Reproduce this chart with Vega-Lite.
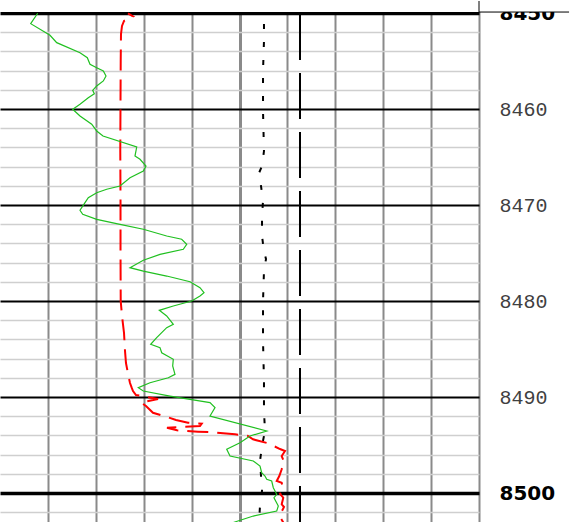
{
  "$schema": "https://vega.github.io/schema/vega-lite/v6.json",
  "width": 479,
  "height": 522,
  "padding": 0,
  "autosize": {"type": "pad"},
  "background": "white",
  "config": {"view": {"stroke": null}},
  "datasets": {
    "gr": [
      {"depth": 8450.03, "value": 0.787}, {"depth": 8451.11, "value": 0.641}, {"depth": 8452.32, "value": 1.044},
      {"depth": 8453.09, "value": 1.184}, {"depth": 8454.14, "value": 1.670}, {"depth": 8454.66, "value": 1.823},
      {"depth": 8455.34, "value": 1.879}, {"depth": 8455.70, "value": 2.019}, {"depth": 8456.04, "value": 2.157},
      {"depth": 8456.56, "value": 2.213}, {"depth": 8457.08, "value": 2.157}, {"depth": 8457.60, "value": 2.019},
      {"depth": 8458.05, "value": 1.935}, {"depth": 8458.41, "value": 1.969}, {"depth": 8458.82, "value": 1.843},
      {"depth": 8459.51, "value": 1.670}, {"depth": 8460.03, "value": 1.518}, {"depth": 8460.73, "value": 1.670},
      {"depth": 8461.59, "value": 1.914}, {"depth": 8462.29, "value": 2.019}, {"depth": 8462.81, "value": 2.150},
      {"depth": 8463.96, "value": 2.854}, {"depth": 8464.90, "value": 2.818}, {"depth": 8465.24, "value": 2.923},
      {"depth": 8465.94, "value": 3.048}, {"depth": 8466.46, "value": 2.992}, {"depth": 8467.16, "value": 2.714},
      {"depth": 8468.02, "value": 2.505}, {"depth": 8468.36, "value": 2.228}, {"depth": 8468.72, "value": 2.019},
      {"depth": 8469.24, "value": 1.843}, {"depth": 8469.76, "value": 1.775}, {"depth": 8470.55, "value": 1.670},
      {"depth": 8470.97, "value": 1.727}, {"depth": 8471.49, "value": 2.019}, {"depth": 8472.01, "value": 2.505},
      {"depth": 8472.53, "value": 2.992}, {"depth": 8473.23, "value": 3.480}, {"depth": 8473.57, "value": 3.793},
      {"depth": 8474.09, "value": 3.898}, {"depth": 8474.61, "value": 3.827}, {"depth": 8475.14, "value": 3.340},
      {"depth": 8475.76, "value": 2.992}, {"depth": 8476.53, "value": 2.714}, {"depth": 8476.88, "value": 2.992},
      {"depth": 8477.40, "value": 3.480}, {"depth": 8477.99, "value": 3.967}, {"depth": 8478.61, "value": 4.175},
      {"depth": 8479.14, "value": 4.259}, {"depth": 8479.48, "value": 4.175}, {"depth": 8480.00, "value": 4.002},
      {"depth": 8480.52, "value": 3.618}, {"depth": 8480.97, "value": 3.326}, {"depth": 8481.56, "value": 3.480},
      {"depth": 8482.43, "value": 3.618}, {"depth": 8482.78, "value": 3.480}, {"depth": 8483.82, "value": 3.271},
      {"depth": 8484.51, "value": 3.146}, {"depth": 8484.86, "value": 3.340}, {"depth": 8485.39, "value": 3.376},
      {"depth": 8486.07, "value": 3.618}, {"depth": 8486.77, "value": 3.605}, {"depth": 8487.64, "value": 3.653},
      {"depth": 8487.99, "value": 3.514}, {"depth": 8488.51, "value": 3.132}, {"depth": 8489.03, "value": 2.887},
      {"depth": 8489.38, "value": 2.992}, {"depth": 8489.90, "value": 3.549}, {"depth": 8490.59, "value": 4.384},
      {"depth": 8491.11, "value": 4.489}, {"depth": 8491.98, "value": 4.384}, {"depth": 8493.54, "value": 5.568},
      {"depth": 8494.06, "value": 5.219}, {"depth": 8494.76, "value": 5.010}, {"depth": 8495.45, "value": 4.733},
      {"depth": 8496.15, "value": 4.802}, {"depth": 8496.67, "value": 5.288}, {"depth": 8497.19, "value": 5.428},
      {"depth": 8497.89, "value": 5.463}, {"depth": 8498.23, "value": 5.532}, {"depth": 8498.57, "value": 5.568},
      {"depth": 8498.75, "value": 5.672}, {"depth": 8499.45, "value": 5.706}, {"depth": 8500.14, "value": 5.777},
      {"depth": 8500.49, "value": 5.720}, {"depth": 8501.35, "value": 5.810}, {"depth": 8501.88, "value": 5.777},
      {"depth": 8502.40, "value": 5.288}, {"depth": 8503.07, "value": 4.871}
    ],
    "res": [
      {"depth": 8450.03, "value": 2.672}, {"depth": 8450.36, "value": 2.777}, {"depth": 8450.83, "value": 2.589},
      {"depth": 8451.35, "value": 2.547}, {"depth": 8452.19, "value": 2.526}, {"depth": 8455.00, "value": 2.520},
      {"depth": 8459.17, "value": 2.516}, {"depth": 8464.38, "value": 2.511}, {"depth": 8469.58, "value": 2.516},
      {"depth": 8474.79, "value": 2.516}, {"depth": 8480.00, "value": 2.520}, {"depth": 8481.56, "value": 2.547},
      {"depth": 8483.33, "value": 2.589}, {"depth": 8485.21, "value": 2.610}, {"depth": 8486.46, "value": 2.630},
      {"depth": 8487.71, "value": 2.678}, {"depth": 8488.54, "value": 2.714}, {"depth": 8489.03, "value": 2.749},
      {"depth": 8489.38, "value": 2.777}, {"depth": 8489.79, "value": 2.839}, {"depth": 8490.21, "value": 3.299},
      {"depth": 8490.57, "value": 2.944}, {"depth": 8490.94, "value": 3.048}, {"depth": 8491.64, "value": 3.194},
      {"depth": 8492.08, "value": 3.486}, {"depth": 8492.40, "value": 3.674}, {"depth": 8492.68, "value": 3.925},
      {"depth": 8492.78, "value": 4.211}, {"depth": 8493.02, "value": 4.175}, {"depth": 8493.20, "value": 3.486},
      {"depth": 8493.47, "value": 3.695}, {"depth": 8493.61, "value": 4.134}, {"depth": 8493.68, "value": 4.447},
      {"depth": 8493.89, "value": 4.906}, {"depth": 8494.06, "value": 5.177}, {"depth": 8494.41, "value": 5.282},
      {"depth": 8494.82, "value": 5.595}, {"depth": 8495.42, "value": 5.846}, {"depth": 8495.63, "value": 5.950},
      {"depth": 8496.15, "value": 5.881}, {"depth": 8496.74, "value": 5.929}, {"depth": 8497.53, "value": 5.881},
      {"depth": 8498.23, "value": 5.831}, {"depth": 8498.75, "value": 5.777}, {"depth": 8498.93, "value": 5.881},
      {"depth": 8499.58, "value": 5.908}, {"depth": 8500.10, "value": 5.846}, {"depth": 8500.49, "value": 5.914},
      {"depth": 8501.18, "value": 5.881}, {"depth": 8501.46, "value": 5.929}, {"depth": 8502.08, "value": 5.866},
      {"depth": 8502.50, "value": 5.846}, {"depth": 8503.07, "value": 5.914}
    ],
    "dot": [
      {"depth": 8450.10, "value": 5.511}, {"depth": 8452.92, "value": 5.511}, {"depth": 8456.04, "value": 5.491},
      {"depth": 8460.21, "value": 5.491}, {"depth": 8464.38, "value": 5.511}, {"depth": 8465.94, "value": 5.470},
      {"depth": 8466.67, "value": 5.407}, {"depth": 8468.02, "value": 5.449}, {"depth": 8469.58, "value": 5.491},
      {"depth": 8471.15, "value": 5.470}, {"depth": 8473.23, "value": 5.470}, {"depth": 8474.79, "value": 5.511},
      {"depth": 8475.63, "value": 5.553}, {"depth": 8476.88, "value": 5.511}, {"depth": 8480.00, "value": 5.491},
      {"depth": 8484.17, "value": 5.491}, {"depth": 8488.33, "value": 5.511}, {"depth": 8491.46, "value": 5.511},
      {"depth": 8493.54, "value": 5.532}, {"depth": 8495.10, "value": 5.470}, {"depth": 8496.67, "value": 5.428},
      {"depth": 8498.23, "value": 5.449}, {"depth": 8499.79, "value": 5.470}, {"depth": 8501.35, "value": 5.428},
      {"depth": 8503.07, "value": 5.407}
    ],
    "bit": [
      {"depth": 8450.10, "value": 6.263}, {"depth": 8503.07, "value": 6.263}
    ],
    "frame": [
      {"value": 0, "value2": 11.88, "depth": 8448.75, "depth2": 8449.9}
    ],
    "frameEdges": [
      {"value": 10, "value2": 11.88, "depth": 8449.9, "depth2": 8449.9},
      {"value": 10, "value2": 10, "depth": 8448.75, "depth2": 8449.9}
    ]
  },
  "encoding": {
    "x": {
      "field": "value", "type": "quantitative",
      "scale": {"domain": [0, 10], "nice": false, "zero": false},
      "axis": {
        "orient": "bottom", "title": null, "labels": false, "ticks": false, "domain": false,
        "values": [0, 1, 2, 3, 4, 5, 6, 7, 8, 9, 10],
        "grid": true, "gridColor": "#8a8a8a",
        "gridWidth": {"condition": {"test": "datum.value === 5", "value": 3}, "value": 2},
        "gridOpacity": {"condition": {"test": "datum.value === 0", "value": 0}, "value": 1}
      }
    },
    "y": {
      "field": "depth", "type": "quantitative",
      "scale": {"domain": [8448.75, 8503.125], "nice": false, "zero": false, "reverse": true},
      "axis": {
        "orient": "right", "title": null, "ticks": false, "domain": false,
        "values": [8450, 8452, 8454, 8456, 8458, 8460, 8462, 8464, 8466, 8468, 8470, 8472, 8474, 8476, 8478, 8480, 8482, 8484, 8486, 8488, 8490, 8492, 8494, 8496, 8498, 8500, 8502],
        "format": "d",
        "labelExpr": "datum.value % 10 === 0 ? datum.label : ''",
        "labelOverlap": false, "labelFlush": false, "labelBound": false,
        "labelPadding": 20, "labelAlign": "left", "labelBaseline": "middle",
        "labelFont": {"condition": {"test": "datum.value % 50 === 0", "value": "DejaVu Sans"}, "value": "Liberation Mono"},
        "labelFontWeight": {"condition": {"test": "datum.value % 50 === 0", "value": "bold"}, "value": "normal"},
        "labelFontSize": 20,
        "labelColor": {"condition": {"test": "datum.value % 50 === 0", "value": "#000000"}, "value": "#404040"},
        "grid": true,
        "gridColor": {"condition": {"test": "datum.value % 10 === 0", "value": "#000000"}, "value": "#cfcfcf"},
        "gridWidth": {"condition": [{"test": "datum.value % 50 === 0", "value": 3.3}, {"test": "datum.value % 10 === 0", "value": 2}], "value": 1.5}
      }
    }
  },
  "layer": [
    {
      "data": {"name": "bit"},
      "mark": {"type": "line", "color": "#000000", "strokeWidth": 2, "strokeDash": [46, 13]},
      "encoding": {"order": {"field": "depth", "type": "quantitative"}}
    },
    {
      "data": {"name": "dot"},
      "mark": {"type": "line", "color": "#000000", "strokeWidth": 2, "strokeDash": [5, 13], "strokeDashOffset": 8},
      "encoding": {"order": {"field": "depth", "type": "quantitative"}}
    },
    {
      "data": {"name": "res"},
      "mark": {"type": "line", "color": "#ff0000", "strokeWidth": 2, "strokeDash": [21, 9], "strokeDashOffset": 15},
      "encoding": {"order": {"field": "depth", "type": "quantitative"}}
    },
    {
      "data": {"name": "gr"},
      "mark": {"type": "line", "color": "#20c020", "strokeWidth": 1.2},
      "encoding": {"order": {"field": "depth", "type": "quantitative"}}
    },
    {
      "data": {"name": "frame"},
      "mark": {"type": "rect", "fill": "#ffffff", "strokeWidth": 0, "clip": false},
      "encoding": {
        "x2": {"field": "value2"},
        "y2": {"field": "depth2"}
      }
    },
    {
      "data": {"name": "frameEdges"},
      "mark": {"type": "rule", "color": "#000000", "strokeWidth": 1, "clip": false},
      "encoding": {
        "x2": {"field": "value2"},
        "y2": {"field": "depth2"}
      }
    }
  ]
}
